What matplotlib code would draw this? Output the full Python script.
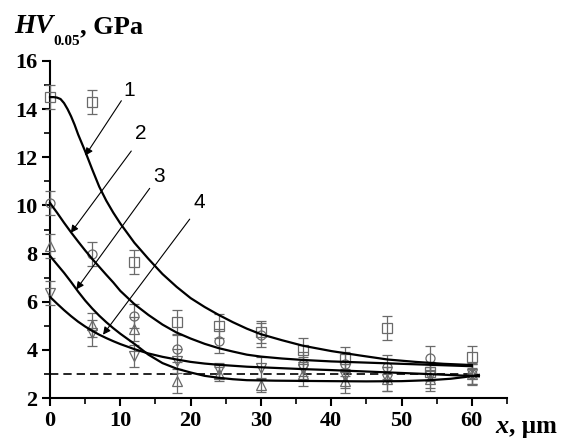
import matplotlib
matplotlib.use("Agg")
import matplotlib.pyplot as plt
from matplotlib.ticker import MultipleLocator

# ---- data ----
x_pts = [0, 6, 12, 18, 24, 30, 36, 42, 48, 54, 60]
hv1 = [14.5, 14.3, 7.65, 5.15, 5.0, 4.75, 4.0, 3.6, 4.9, 3.1, 3.7]
err1 = [0.5, 0.5, 0.5, 0.5, 0.5, 0.45, 0.5, 0.5, 0.5, 0.4, 0.45]
hv2 = [10.1, 8.0, 5.4, 4.05, 4.35, 4.6, 3.4, 3.4, 3.3, 3.65, 3.0]
err2 = [0.5, 0.5, 0.5, 0.55, 0.5, 0.5, 0.5, 0.5, 0.5, 0.5, 0.45]
hv3 = [8.3, 5.05, 4.85, 2.7, 3.0, 2.55, 3.0, 2.7, 2.8, 2.8, 3.0]
err3 = [0.5, 0.5, 0.5, 0.5, 0.3, 0.3, 0.5, 0.5, 0.5, 0.5, 0.4]
hv4 = [6.35, 4.7, 3.75, 3.55, 3.15, 3.25, 3.2, 2.9, 2.8, 2.9, 3.0]
err4 = [0.5, 0.55, 0.45, 0.5, 0.3, 0.45, 0.5, 0.5, 0.5, 0.5, 0.4]

fit1_x = [0, 0.5, 1, 1.5, 2, 2.5, 3, 3.5, 4, 5, 6, 7, 8, 9, 10, 12, 14, 16, 18, 20, 22, 24, 26, 28, 30, 33, 36, 40, 44, 48, 52, 56, 60]
fit1_y = [14.5, 14.5, 14.48, 14.42, 14.25, 14.0, 13.7, 13.35, 12.95, 12.25, 11.5, 10.78, 10.2, 9.7, 9.25, 8.45, 7.78, 7.15, 6.62, 6.15, 5.78, 5.45, 5.15, 4.88, 4.65, 4.4, 4.17, 3.95, 3.77, 3.6, 3.5, 3.42, 3.37]
fit2_x = [0, 1, 2, 3, 4, 5, 6, 7, 8, 9, 10, 12, 14, 16, 18, 20, 22, 24, 26, 28, 30, 33, 36, 40, 45, 50, 55, 60]
fit2_y = [10.1, 9.7, 9.28, 8.88, 8.5, 8.13, 7.78, 7.45, 7.12, 6.8, 6.45, 5.9, 5.45, 5.05, 4.72, 4.47, 4.25, 4.07, 3.93, 3.8, 3.72, 3.64, 3.58, 3.52, 3.47, 3.42, 3.37, 3.32]
fit3_x = [0, 1, 2, 3, 4, 5, 6, 7, 8, 9, 10, 12, 14, 16, 18, 20, 22, 24, 26, 28, 32, 40, 45, 50, 54, 57, 59, 61]
fit3_y = [7.9, 7.55, 7.2, 6.82, 6.42, 6.05, 5.72, 5.42, 5.15, 4.9, 4.67, 4.25, 3.8, 3.45, 3.22, 3.06, 2.92, 2.84, 2.78, 2.74, 2.72, 2.7, 2.69, 2.7, 2.74, 2.8, 2.87, 2.96]
fit4_x = [0, 1, 2, 3, 4, 5, 6, 7, 8, 9, 10, 12, 14, 16, 18, 20, 22, 24, 26, 28, 32, 36, 40, 45, 50, 55, 61]
fit4_y = [6.2, 5.92, 5.65, 5.4, 5.17, 4.97, 4.79, 4.63, 4.49, 4.36, 4.24, 4.03, 3.85, 3.71, 3.6, 3.5, 3.43, 3.38, 3.34, 3.3, 3.25, 3.2, 3.16, 3.1, 3.04, 2.98, 2.9]

ref_level = 3.0
curve_labels = ["1", "2", "3", "4"]

# ---- figure ----
W, H = 563, 441
fig = plt.figure(figsize=(W / 100, H / 100), dpi=100)
ax = fig.add_axes([50 / W, 1 - 398 / H, (507 - 50) / W, (398 - 61) / H])

serif = "Liberation Serif"
gray = "#6a6a6a"

markers = ["s", "o", "^", "v"]
for hv, err, m in zip([hv1, hv2, hv3, hv4], [err1, err2, err3, err4], markers):
    ax.errorbar(x_pts, hv, yerr=err, fmt=m, ms=6.5, mfc="none", mec=gray, mew=0.9,
                ecolor=gray, elinewidth=0.9, capsize=3.5, capthick=0.9, clip_on=False, zorder=3)

for fx, fy in [(fit1_x, fit1_y), (fit2_x, fit2_y), (fit3_x, fit3_y), (fit4_x, fit4_y)]:
    ax.plot(fx, fy, color="black", lw=1.6, zorder=4, clip_on=False)

ax.plot([0, 60.7], [ref_level, ref_level], color="black", lw=1.2, ls=(0, (5, 3)), zorder=2)

# arrows with labels
arrow_specs = [((10.15, 14.35), (5.02, 12.07), (11.2, 14.55)),
               ((11.56, 12.26), (2.95, 8.86), (12.9, 12.75)),
               ((14.18, 10.71), (3.74, 6.51), (15.55, 10.97)),
               ((19.87, 9.43), (7.54, 4.63), (21.24, 9.9))]
for lab, (start, end, tpos) in zip(curve_labels, arrow_specs):
    ax.annotate("", xy=end, xytext=start,
                arrowprops=dict(arrowstyle="-|>", color="black", lw=0.8,
                                mutation_scale=11, shrinkA=0, shrinkB=0), zorder=5)
    ax.text(tpos[0], tpos[1], lab, fontsize=15, family="Liberation Sans",
            ha="center", va="baseline")

ax.set_xlim(0, 65)
ax.set_ylim(2, 16)
ax.xaxis.set_major_locator(MultipleLocator(10))
ax.xaxis.set_minor_locator(MultipleLocator(5))
ax.yaxis.set_major_locator(MultipleLocator(2))
ax.yaxis.set_minor_locator(MultipleLocator(1))
ax.set_xticks([0, 10, 20, 30, 40, 50, 60])
for s in ["top", "right"]:
    ax.spines[s].set_visible(False)
for s in ["left", "bottom"]:
    ax.spines[s].set_linewidth(1.5)
ax.tick_params(which="major", direction="out", length=6, width=1.5, pad=3)
ax.tick_params(which="minor", direction="out", length=4, width=1.2)
for lbl in ax.get_xticklabels() + ax.get_yticklabels():
    lbl.set_fontfamily(serif)
    lbl.set_fontweight("bold")
    lbl.set_fontsize(16)

# axis titles
def ftext(px, py, s, **kw):
    fig.text(px / W, 1 - py / H, s, family=serif, fontweight="bold", va="baseline", **kw)

ftext(14, 33, "HV", fontsize=19.5, style="italic")
ftext(53, 45, "0.05", fontsize=11)
ftext(80, 33, ", GPa", fontsize=19)
ftext(495, 433, "x", fontsize=19, style="italic")
ftext(509, 433, ", µm", fontsize=18)

fig.savefig("out.png", dpi=100)
